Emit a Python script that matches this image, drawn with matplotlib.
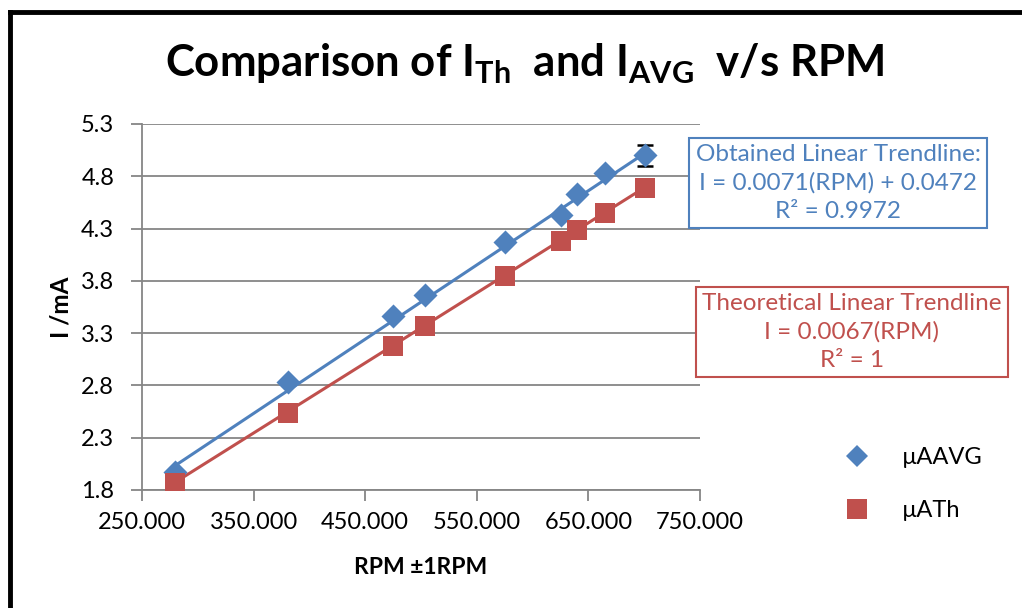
import matplotlib
matplotlib.use("Agg")
import matplotlib.pyplot as plt
from matplotlib.lines import Line2D
import numpy as np

plt.rcParams['font.family'] = ['Lato', 'DejaVu Sans']
plt.rcParams['mathtext.fontset'] = 'custom'
plt.rcParams['mathtext.rm'] = 'Lato'
plt.rcParams['mathtext.bf'] = 'Lato:bold'

# data
rpm = [279.6, 380.4, 474.8, 503.9, 575.0, 625.2, 640.2, 665.2, 700.4]
i_avg = [1.97, 2.83, 3.46, 3.66, 4.17, 4.43, 4.63, 4.83, 5.00]
i_th = [1.87, 2.54, 3.18, 3.37, 3.85, 4.18, 4.29, 4.45, 4.69]
avg_err = [0, 0, 0, 0, 0, 0, 0, 0, 0.10]

avg_slope, avg_icpt = 0.0071, 0.0472
th_slope = 0.0067

x_ticks = [250, 350, 450, 550, 650, 750]
y_ticks = [1.8, 2.3, 2.8, 3.3, 3.8, 4.3, 4.8, 5.3]

blue = '#4F81BD'
red = '#C0504D'
grid = '#868686'

fig = plt.figure(figsize=(10.22, 6.08), dpi=100)
ax = fig.add_axes([142/1022, 118/608, 558/1022, 366/608])

# trendlines over the data range
xs = np.array([min(rpm), max(rpm)])
ax.plot(xs, avg_slope*xs + avg_icpt, color=blue, lw=2.2, zorder=3)
ax.plot(xs, th_slope*xs, color=red, lw=2.2, zorder=3)

# error bars (only the last one is visible)
ex = [r for r, e in zip(rpm, avg_err) if e > 0]
ey = [v for v, e in zip(i_avg, avg_err) if e > 0]
ee = [e for e in avg_err if e > 0]
ax.errorbar(ex, ey, yerr=ee, fmt='none', ecolor='black', elinewidth=1.5,
            capsize=6, capthick=1.8, zorder=4)

ax.scatter(rpm, i_avg, marker='D', s=150, color=blue, zorder=5, lw=0)
ax.scatter(rpm, i_th, marker='s', s=200, color=red, zorder=6, lw=0)

ax.set_xlim(250, 750)
ax.set_ylim(1.8, 5.3)
ax.set_xticks(x_ticks)
ax.set_xticklabels([f'{v:.3f}' for v in x_ticks])
ax.set_yticks(y_ticks)
ax.set_yticklabels([f'{v:.1f}' for v in y_ticks])
ax.grid(axis='y', color=grid, lw=1.3)
ax.set_axisbelow(True)
for side in ['top', 'right']:
    ax.spines[side].set_visible(False)
for side in ['left', 'bottom']:
    ax.spines[side].set_color(grid)
    ax.spines[side].set_linewidth(1.3)
ax.tick_params(axis='both', colors=grid, length=8, width=1.3, labelsize=17,
               labelcolor='black')
ax.tick_params(axis='x', pad=8)
ax.tick_params(axis='y', pad=12)

ax.set_xlabel('RPM ±1RPM', fontsize=16.5, fontweight='bold', labelpad=17)
ax.set_ylabel('I /mA', fontsize=17.5, fontweight='bold', labelpad=6)

fig.text(0.513, 0.895, r'Comparison of I$_\mathbf{Th}$  and I$_\mathbf{AVG}$  v/s RPM',
         ha='center', va='center', fontsize=31.5, fontweight='bold')

# trendline annotation boxes
fig.text(838/1022, 1 - 183/608,
         'Obtained Linear Trendline:\nI = 0.0071(RPM) + 0.0472\nR² = 0.9972',
         ha='center', va='center', fontsize=17.5, color=blue, linespacing=1.4,
         bbox=dict(boxstyle='square,pad=0.25', fc='white', ec=blue, lw=1.5))
fig.text(852/1022, 1 - 332/608,
         'Theoretical Linear Trendline\nI = 0.0067(RPM)\nR² = 1',
         ha='center', va='center', fontsize=17.5, color=red, linespacing=1.4,
         bbox=dict(boxstyle='square,pad=0.25', fc='white', ec=red, lw=1.5))

handles = [Line2D([], [], marker='D', ls='none', color=blue, ms=11, mew=0),
           Line2D([], [], marker='s', ls='none', color=red, ms=14, mew=0)]
fig.legend(handles, ['µAAVG', 'µATh'], loc='center', bbox_to_anchor=(908/1022, 1 - 484/608),
           frameon=False, fontsize=17, labelspacing=1.35, handletextpad=0.9)

# black frame along top and left edge
fig.add_artist(Line2D([10/1022, 10/1022], [0, 1 - 12/608], color='black', lw=3.5))
fig.add_artist(Line2D([10/1022, 1], [1 - 12/608, 1 - 12/608], color='black', lw=3.5))

fig.savefig('out.png', dpi=100)
